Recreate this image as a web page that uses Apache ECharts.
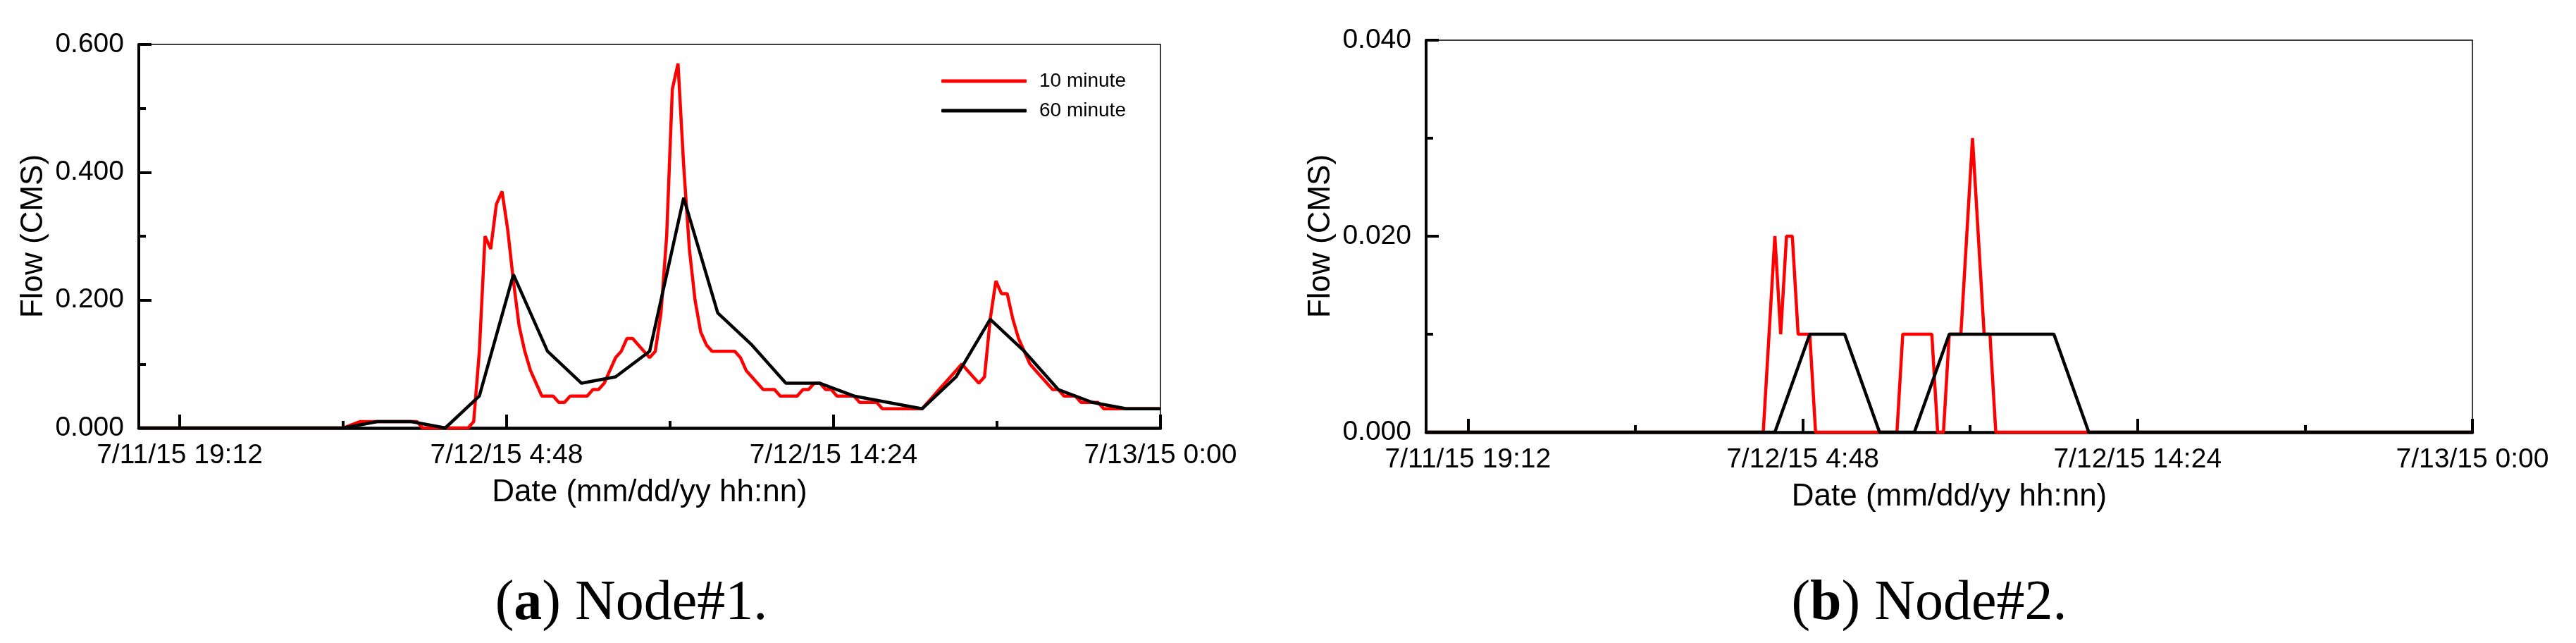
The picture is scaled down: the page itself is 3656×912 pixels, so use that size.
<!DOCTYPE html>
<html>
<head>
<meta charset="utf-8">
<script src="https://cdn.jsdelivr.net/npm/echarts@6/dist/echarts.min.js"></script>
<style>
html, body { margin: 0; padding: 0; background: #fff; }
#chart { width: 3656px; height: 912px; }
</style>
</head>
<body>
<div id="chart"></div>
<script>
// x values are minutes after 7/11/15 18:00
const xTickMinutes = [72, 648, 1224, 1800];
const xTickLabels = ['7/11/15 19:12', '7/12/15 4:48', '7/12/15 14:24', '7/13/15 0:00'];
const xMinorMinutes = [360, 936, 1512];

const hourMinutes = [0, 60, 120, 180, 240, 300, 360, 420, 480, 540, 600,
    660, 720, 780, 840, 900, 960, 1020, 1080, 1140, 1200,
    1260, 1320, 1380, 1440, 1500, 1560, 1620, 1680, 1740, 1800];

// Node#1
const node1Time10 = [0, 360, 390, 490, 500, 580, 590,
    600, 610, 620, 630, 640, 650, 660, 670, 680, 690,
    700, 710, 720, 730, 740, 750, 760, 770, 780, 790,
    800, 810, 820, 830, 840, 850, 860, 870, 880, 890,
    900, 910, 920, 930, 940, 950, 960, 970, 980, 990,
    1000, 1010, 1020, 1030, 1040, 1050, 1060, 1070, 1080, 1090,
    1100, 1110, 1120, 1130, 1140, 1150, 1160, 1170, 1180, 1190,
    1200, 1210, 1220, 1230, 1240, 1250, 1260, 1270, 1280, 1290,
    1300, 1310, 1380,
    1390, 1400, 1410, 1420, 1430, 1440, 1450, 1460, 1470, 1480,
    1490, 1500, 1510, 1520, 1530, 1540, 1550, 1560, 1570, 1580,
    1590, 1600, 1610, 1620, 1630, 1640, 1650, 1660, 1670, 1680,
    1690, 1700, 1800];
const node1Flow10 = [0, 0, 0.01, 0.01, 0, 0, 0.01,
    0.12, 0.30, 0.28, 0.35, 0.37, 0.31, 0.23, 0.16, 0.12, 0.09,
    0.07, 0.05, 0.05, 0.05, 0.04, 0.04, 0.05, 0.05, 0.05, 0.05,
    0.06, 0.06, 0.07, 0.09, 0.11, 0.12, 0.14, 0.14, 0.13, 0.12,
    0.11, 0.12, 0.18, 0.30, 0.53, 0.57, 0.41, 0.28, 0.20, 0.15,
    0.13, 0.12, 0.12, 0.12, 0.12, 0.12, 0.11, 0.09, 0.08, 0.07,
    0.06, 0.06, 0.06, 0.05, 0.05, 0.05, 0.05, 0.06, 0.06, 0.07,
    0.07, 0.06, 0.06, 0.05, 0.05, 0.05, 0.05, 0.04, 0.04, 0.04,
    0.04, 0.03, 0.03,
    0.04, 0.05, 0.06, 0.07, 0.08, 0.09, 0.10, 0.09, 0.08, 0.07,
    0.08, 0.17, 0.23, 0.21, 0.21, 0.17, 0.14, 0.12, 0.10, 0.09,
    0.08, 0.07, 0.06, 0.06, 0.05, 0.05, 0.05, 0.04, 0.04, 0.04,
    0.04, 0.03, 0.03];
const node1Flow60 = [0, 0, 0, 0, 0, 0, 0, 0.01, 0.01, 0, 0.05,
    0.24, 0.12, 0.07, 0.08, 0.12, 0.36, 0.18, 0.13, 0.07, 0.07,
    0.05, 0.04, 0.03, 0.08, 0.17, 0.12, 0.06, 0.04, 0.03, 0.03];

// Node#2
const node2Time10 = [0, 580, 600, 610, 620, 630, 640, 660, 670, 810, 820,
    870, 880, 890, 900, 920, 940, 960, 970, 980, 1800];
const node2Flow10 = [0, 0, 0.02, 0.01, 0.02, 0.02, 0.01, 0.01, 0, 0, 0.01,
    0.01, 0, 0, 0.01, 0.01, 0.03, 0.01, 0.01, 0, 0];
const node2Flow60 = [0, 0, 0, 0, 0, 0, 0, 0, 0, 0, 0,
    0.01, 0.01, 0, 0, 0.01, 0.01, 0.01, 0.01, 0, 0,
    0, 0, 0, 0, 0, 0, 0, 0, 0, 0];

const yMax = [0.6, 0.04];
const yStep = [0.2, 0.02];

const FONT = 'Liberation Sans';
const RED = '#ff0000';
const BLACK = '#000000';

let chartDom = document.getElementById('chart');
let myChart = echarts.init(chartDom);

function pairs(xs, ys) {
    return xs.map((x, i) => [x, ys[i]]);
}

let grids = [
    { left: 197, top: 63, width: 1450, height: 544 },
    { left: 2024, top: 57, width: 1485, height: 556 }
];

let xAxes = [];
let yAxes = [];
grids.forEach((g, i) => {
    g.show = true;
    g.borderColor = '#000';
    g.borderWidth = 1.5;
    g.backgroundColor = 'transparent';
    xAxes.push({
        type: 'value',
        gridIndex: i,
        position: 'bottom',
        min: 0,
        max: 1800,
        name: 'Date (mm/dd/yy hh:nn)',
        nameLocation: 'middle',
        nameGap: 70,
        nameTextStyle: { fontFamily: FONT, fontSize: 44, color: '#000' },
        axisLine: { show: true, onZero: false, lineStyle: { color: '#000', width: 4.5 } },
        axisTick: {
            show: true, inside: true, length: 19,
            customValues: xTickMinutes,
            lineStyle: { color: '#000', width: 4 }
        },
        axisLabel: {
            show: true, margin: 20,
            customValues: xTickMinutes,
            formatter: v => xTickLabels[xTickMinutes.indexOf(v)],
            fontFamily: FONT, fontSize: 39, color: '#000'
        },
        splitLine: { show: false }
    });
    // minor ticks on the date axis
    xAxes.push({
        type: 'value',
        gridIndex: i,
        position: 'bottom',
        min: 0,
        max: 1800,
        axisLine: { show: false },
        axisTick: {
            show: true, inside: true, length: 10,
            customValues: xMinorMinutes,
            lineStyle: { color: '#000', width: 4 }
        },
        axisLabel: { show: false },
        splitLine: { show: false }
    });
    yAxes.push({
        type: 'value',
        gridIndex: i,
        min: 0,
        max: yMax[i],
        interval: yStep[i],
        name: 'Flow (CMS)',
        nameLocation: 'middle',
        nameGap: 127,
        nameTextStyle: { fontFamily: FONT, fontSize: 44, color: '#000' },
        axisLine: { show: true, lineStyle: { color: '#000', width: 4 } },
        axisTick: { show: true, inside: true, length: 18, lineStyle: { color: '#000', width: 4 } },
        minorTick: { show: true, splitNumber: 2, length: 10, lineStyle: { color: '#000', width: 4 } },
        axisLabel: {
            margin: 21,
            formatter: v => v.toFixed(3),
            fontFamily: FONT, fontSize: 39, color: '#000'
        },
        splitLine: { show: false }
    });
});

function lineSeries(name, data, color, gridIdx) {
    return {
        name: name,
        type: 'line',
        xAxisIndex: gridIdx * 2,
        yAxisIndex: gridIdx,
        data: data,
        showSymbol: false,
        symbol: 'none',
        color: color,
        lineStyle: { color: color, width: 4.5 },
        animation: false
    };
}

option = {
    animation: false,
    backgroundColor: '#fff',
    title: [
        {
            text: '({b|a}) Node#1.',
            left: 891, top: 812, textAlign: 'center',
            textStyle: {
                fontFamily: 'Liberation Serif', fontSize: 80, fontWeight: 'normal', color: '#000',
                rich: { b: { fontFamily: 'Liberation Serif', fontSize: 80, fontWeight: 'bold', color: '#000' } }
            }
        },
        {
            text: '({b|b}) Node#2.',
            left: 2733, top: 812, textAlign: 'center',
            textStyle: {
                fontFamily: 'Liberation Serif', fontSize: 80, fontWeight: 'normal', color: '#000',
                rich: { b: { fontFamily: 'Liberation Serif', fontSize: 80, fontWeight: 'bold', color: '#000' } }
            }
        }
    ],
    legend: {
        data: ['10 minute', '60 minute'],
        orient: 'vertical',
        left: 1336,
        top: 101,
        padding: 0,
        itemWidth: 121,
        itemHeight: 5,
        itemGap: 14,
        icon: 'roundRect',
        textStyle: { fontFamily: FONT, fontSize: 28, color: '#000', padding: [0, 0, 0, 13] }
    },
    grid: grids,
    xAxis: xAxes,
    yAxis: yAxes,
    series: [
        lineSeries('10 minute', pairs(node1Time10, node1Flow10), RED, 0),
        lineSeries('60 minute', pairs(hourMinutes, node1Flow60), BLACK, 0),
        lineSeries('10 minute', pairs(node2Time10, node2Flow10), RED, 1),
        lineSeries('60 minute', pairs(hourMinutes, node2Flow60), BLACK, 1)
    ]
};
myChart.setOption(option);
</script>
</body>
</html>
